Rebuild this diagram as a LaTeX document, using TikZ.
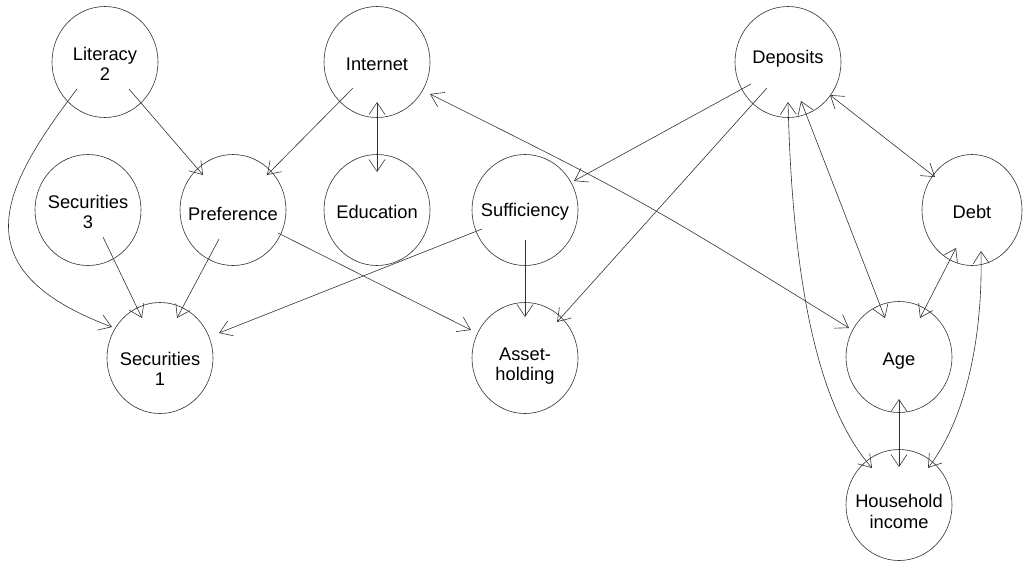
\documentclass[tikz,border=0pt]{standalone}
\usepackage{fontspec}
\setmainfont{Liberation Sans}
\usetikzlibrary{shapes.geometric,arrows.meta,calc}
\begin{document}
\begin{tikzpicture}[x=1pt,y=-1pt,
  var/.style={ellipse, draw=black!80, line width=0.6pt, minimum width=106pt, minimum height=111pt, inner sep=0pt},
  txt/.style={anchor=base, inner sep=0pt, font=\fontsize{18.3}{20}\selectfont},
  tip/.style={Straight Barb[length=12pt,width=16pt]},
  dir/.style={draw=black!80, line width=0.6pt, -{Straight Barb[length=12pt,width=16pt]}},
  bidir/.style={draw=black!80, line width=0.6pt, {Straight Barb[length=12pt,width=16pt]}-{Straight Barb[length=12pt,width=16pt]}}]
\useasboundingbox (0,0) rectangle (1025,563);

% variables
\node[var] (lit)   at (105,62)  {};
\node[var] (int)   at (377,62)  {};
\node[var] (dep)   at (788,62)  {};
\node[var] (sec3)  at (88,210)  {};
\node[var] (pref)  at (233,210) {};
\node[var] (edu)   at (377,210) {};
\node[var] (suff)  at (525,210) {};
\node[var, minimum width=100pt] (debt)  at (972,210) {};
\node[var] (sec1)  at (160,358) {};
\node[var] (asset) at (525,358) {};
\node[var] (age)   at (899,357) {};
\node[var] (hh)    at (899,505) {};

% labels
\node[txt] (lit-a)   at ($(lit)+(0,-2)$)   {Literacy};
\node[txt] (lit-b)   at ($(lit)+(0,18)$)   {2};
\node[txt] (int-a)   at ($(int)+(0,8)$)    {Internet};
\node[txt] (dep-a)   at ($(dep)+(0,1)$)    {Deposits};
\node[txt] (sec3-a)  at ($(sec3)+(0,-2)$)  {Securities};
\node[txt] (sec3-b)  at ($(sec3)+(0,18)$)  {3};
\node[txt] (pref-a)  at ($(pref)+(0,10)$)  {Preference};
\node[txt] (edu-a)   at ($(edu)+(0,8)$)    {Education};
\node[txt] (suff-a)  at ($(suff)+(0,6)$)   {Sufficiency};
\node[txt] (debt-a)  at ($(debt)+(0,8)$)   {Debt};
\node[txt] (sec1-a)  at ($(sec1)+(0,7)$)   {Securities};
\node[txt] (sec1-b)  at ($(sec1)+(0,27)$)  {1};
\node[txt] (asset-a) at ($(asset)+(0,2)$)  {Asset-};
\node[txt] (asset-b) at ($(asset)+(0,22)$) {holding};
\node[txt] (age-a)   at ($(age)+(0,8)$)    {Age};
\node[txt] (hh-a)    at ($(hh)+(0,2)$)     {Household};
\node[txt] (hh-b)    at ($(hh)+(0,23)$)    {income};

% directed edges
\draw[dir] ($(lit)+(24,27)$) -- ($(pref)+(-30,-35)$);
\draw[dir] ($(int)+(-24,26)$) -- ($(pref)+(34,-35)$);
\draw[dir] ($(lit)+(-28,27)$) .. controls ($(lit)+(-105,128)$) and ($(sec1)+(-200,-88)$) .. ($(sec1)+(-48,-31)$);
\draw[dir] ($(sec3)+(15,27)$) -- ($(sec1)+(-18,-40)$);
\draw[dir] ($(pref)+(-14,29)$) -- ($(sec1)+(17,-40)$);
\draw[dir] ($(pref)+(45,23)$) -- ($(asset)+(-54,-28)$);
\draw[dir] ($(suff)+(-43,19)$) -- ($(sec1)+(59,-25)$);
\draw[dir] ($(suff)+(0,30)$) -- ($(asset)+(0,-41)$);
\draw[dir] ($(dep)+(-37,22)$) -- ($(suff)+(49,-29)$);
\draw[dir] ($(dep)+(-21,26)$) -- ($(asset)+(32,-36)$);

% bidirected edges
\draw[bidir] ($(int)+(0,40)$) -- ($(edu)+(0,-38)$);
\draw[bidir] ($(int)+(53,32)$) .. controls ($(int)!0.5!(age)+(5,-9)$) .. ($(age)+(-50,-29)$);
\draw[bidir] ($(dep)+(42,33)$) -- ($(debt)+(-37,-33)$);
\draw[bidir] ($(dep)+(13,39)$) -- ($(age)+(-14,-39)$);
\draw[bidir] ($(dep)+(0,40)$) .. controls ($(dep)+(4,198)$) and ($(hh)+(-87,-105)$) .. ($(hh)+(-27,-37)$);
\draw[bidir] ($(debt)+(-16,38)$) -- ($(age)+(21,-39)$);
\draw[bidir] ($(debt)+(9,41)$) .. controls ($(debt)+(11,130)$) and ($(hh)+(66,-85)$) .. ($(hh)+(29,-37)$);
\draw[bidir] ($(age)+(0,42)$) -- ($(hh)+(0,-38)$);
\end{tikzpicture}
\end{document}
